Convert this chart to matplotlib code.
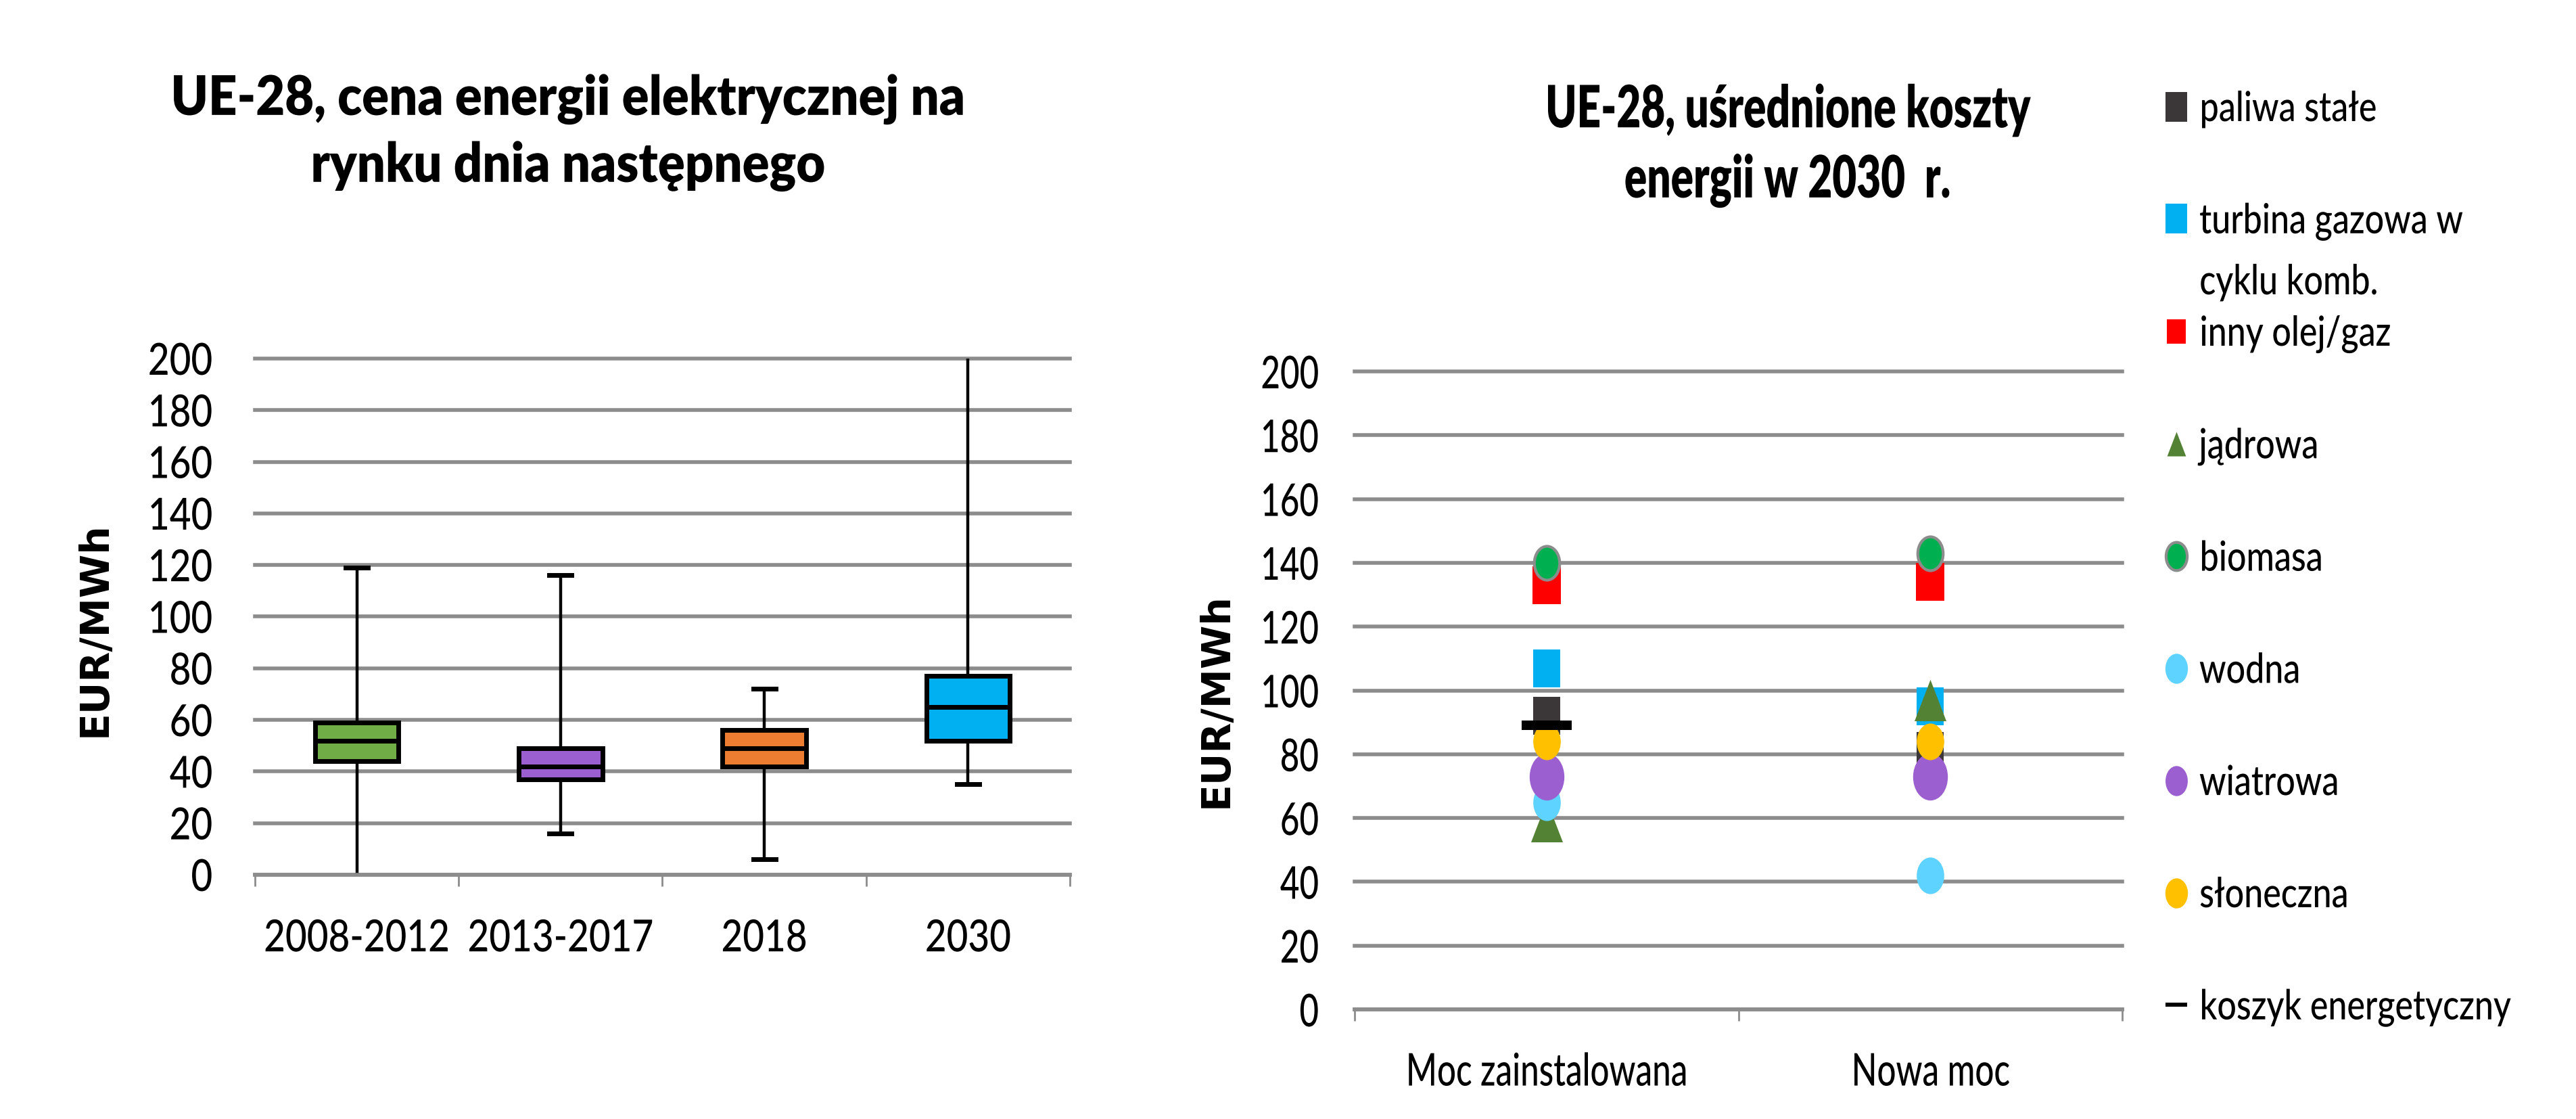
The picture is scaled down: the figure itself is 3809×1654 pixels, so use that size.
import numpy as np
import matplotlib
matplotlib.use("Agg")
import matplotlib.pyplot as plt
import matplotlib.path as mpath
from matplotlib.lines import Line2D
from matplotlib.patheffects import AbstractPathEffect
from matplotlib.transforms import Affine2D

# Left chart: day-ahead price distribution per period
periods = ["2008-2012", "2013-2017", "2018", "2030"]
whisker_low = [0, 16, 6, 35]
q1 = [44, 37, 42, 52]
median = [52, 42, 49, 65]
q3 = [59, 49, 56, 77]
whisker_high = [119, 116, 72, 200]
box_colors = ["#70AD47", "#9B5FD0", "#ED7D31", "#00B0F0"]

# Right chart: levelised cost of energy in 2030
cost_categories = ["Moc zainstalowana", "Nowa moc"]
paliwa_stale = [92, 81]
turbina_gazowa = [107, 95]
inny_olej_gaz = [133, 134]
jadrowa = [59, 97]
biomasa = [140, 143]
wodna = [65, 42]
wiatrowa = [73, 73]
sloneczna = [84, 84]
koszyk = [89, np.nan]

y_ticks = list(range(0, 201, 20))
GRID = "#8c8c8c"
FONT = "Lato"


class Squeeze(AbstractPathEffect):
    """Draw text narrower than the font, like the condensed text of the original."""

    def __init__(self, sx, anchor="center"):
        super().__init__()
        self.sx = sx
        self.anchor = anchor

    def draw_path(self, renderer, gc, tpath, affine, rgbFace=None):
        ext = tpath.transformed(affine).get_extents()
        if self.anchor == "left":
            cx = ext.x0
        elif self.anchor == "right":
            cx = ext.x1
        else:
            cx = (ext.x0 + ext.x1) / 2
        t = affine + Affine2D().translate(-cx, 0).scale(self.sx, 1).translate(cx, 0)
        renderer.draw_path(gc, tpath, t, rgbFace)


def oval(rx):
    circ = mpath.Path.unit_circle()
    return mpath.Path(circ.vertices * np.array([rx, 1.0]), circ.codes)


def rect(w, h):
    return mpath.Path([(-w / 2, -h / 2), (w / 2, -h / 2), (w / 2, h / 2),
                       (-w / 2, h / 2), (-w / 2, -h / 2)], closed=True)


def triangle(w):
    return mpath.Path([(-w / 2, -0.5), (w / 2, -0.5), (0, 0.5), (-w / 2, -0.5)], closed=True)


def style_axes(ax, n_cats, tick_size, squeeze, ypad, xpad):
    ax.set_ylim(0, 200)
    ax.set_yticks(y_ticks)
    ax.set_xlim(-0.5, n_cats - 0.5)
    ax.yaxis.grid(True, color=GRID, linewidth=4)
    ax.set_axisbelow(True)
    for line in ax.get_ygridlines():
        line.set_clip_on(False)
    for side in ["top", "right", "left"]:
        ax.spines[side].set_visible(False)
    ax.spines["bottom"].set_color(GRID)
    ax.spines["bottom"].set_linewidth(4)
    ax.set_xticks(np.arange(-0.5, n_cats), minor=True)
    ax.tick_params(axis="x", which="minor", length=12, width=2, color=GRID, direction="out")
    ax.tick_params(axis="x", which="major", length=0, pad=xpad)
    ax.tick_params(axis="y", length=0, pad=ypad)
    for lab in ax.get_xticklabels():
        lab.set_fontfamily(FONT)
        lab.set_fontweight("medium")
        lab.set_fontsize(tick_size)
        lab.set_path_effects([Squeeze(squeeze, "center")])
    for lab in ax.get_yticklabels():
        lab.set_fontfamily(FONT)
        lab.set_fontweight("medium")
        lab.set_fontsize(tick_size)
        lab.set_path_effects([Squeeze(squeeze, "right")])


fig = plt.figure(figsize=(38.09, 16.54), dpi=100)

# ---------------- left: box plot ----------------
ax1 = fig.add_axes([0.0990, 0.2183, 0.3163, 0.4613])
stats = []
for i, p in enumerate(periods):
    stats.append({"label": p, "whislo": whisker_low[i], "q1": q1[i], "med": median[i],
                  "q3": q3[i], "whishi": whisker_high[i], "fliers": []})
bp = ax1.bxp(stats, positions=range(len(periods)), widths=0.41, capwidths=0.11,
             patch_artist=True, showfliers=False,
             boxprops=dict(linewidth=5, edgecolor="black"),
             medianprops=dict(linewidth=5, color="black"),
             whiskerprops=dict(linewidth=3.2, color="black"),
             capprops=dict(linewidth=5, color="black"))
for patch, c in zip(bp["boxes"], box_colors):
    patch.set_facecolor(c)
# caps lying on the axis limits are not shown in the original
for i in range(len(periods)):
    if whisker_low[i] <= 0:
        bp["caps"][2 * i].set_visible(False)
    if whisker_high[i] >= 200:
        bp["caps"][2 * i + 1].set_visible(False)
ax1.set_xticks(range(len(periods)))
ax1.set_xticklabels(periods)
style_axes(ax1, len(periods), 47, 0.84, 45, 47)
ax1.set_ylabel("EUR/MWh", fontsize=42, fontweight="bold", family="DejaVu Sans")
ax1.yaxis.set_label_coords(-0.173, 0.476)

fig.text(0.2205, 0.881, "UE-28, cena energii elektrycznej na\nrynku dnia następnego",
         ha="center", va="center", fontsize=58, fontweight="heavy", family=FONT,
         linespacing=1.36, path_effects=[Squeeze(0.92, "center")])

# ---------------- right: scatter ----------------
ax2 = fig.add_axes([0.5259, 0.0979, 0.2979, 0.5702])
xpos = np.arange(len(cost_categories))

series = [
    ("paliwa stałe", paliwa_stale, rect(0.71, 1), "#3B3738", 40, 32),
    ("turbina gazowa w", turbina_gazowa, rect(0.71, 1), "#00B0F0", 40, 32),
    ("inny olej/gaz", inny_olej_gaz, rect(0.76, 1), "#FF0000", 40, 26),
    ("jądrowa", jadrowa, triangle(0.77), "#548235", 44, 26),
    ("biomasa", biomasa, oval(0.75), "#00B050", 36, 30),
    ("wodna", wodna, oval(0.75), "#5FD3FF", 39, 32),
    ("wiatrowa", wiatrowa, oval(0.74), "#9B5FD0", 50, 32),
    ("słoneczna", sloneczna, oval(0.75), "#FFC000", 39, 32),
    ("koszyk energetyczny", koszyk, rect(1, 0.2), "black", 53, 23),
]

handles = []
for z, (label, values, marker, color, size, leg_size) in enumerate(series):
    edge = GRID if label == "biomasa" else color
    mew = 3 if label == "biomasa" else 0
    ax2.plot(xpos, values, linestyle="none", marker=marker, markersize=size,
             color=color, markeredgecolor=edge, markeredgewidth=mew, zorder=3 + z)
    handles.append(Line2D([], [], linestyle="none", marker=marker, markersize=leg_size,
                          color=color, markeredgecolor=edge, markeredgewidth=mew))

ax2.set_xticks(xpos)
ax2.set_xticklabels(cost_categories)
style_axes(ax2, len(cost_categories), 48, 0.74, 38, 45)
ax2.set_ylabel("EUR/MWh", fontsize=42, fontweight="bold", family="DejaVu Sans")
ax2.yaxis.set_label_coords(-0.156, 0.485)

fig.text(0.694, 0.8694, "UE-28, uśrednione koszty\nenergii w 2030  r.",
         ha="center", va="center", fontsize=62, fontweight="heavy", family=FONT,
         linespacing=1.4, path_effects=[Squeeze(0.72, "center")])

leg_squeeze = Squeeze(0.82, "left")
leg = fig.legend(handles, [s[0] for s in series], loc="upper left",
                 bbox_to_anchor=(0.8401, 0.9196), frameon=False, borderpad=0,
                 borderaxespad=0, handlelength=0.6, handletextpad=0.25,
                 labelspacing=1.78, prop={"family": FONT, "size": 44, "weight": "medium"})
for t in leg.get_texts():
    t.set_path_effects([leg_squeeze])

# second line of the two-line legend entry overflows below it, as in the original
fig.canvas.draw()
renderer = fig.canvas.get_renderer()
bb = leg.get_texts()[1].get_window_extent(renderer)
fig.text(bb.x0 / fig.bbox.width, ((bb.y0 + bb.y1) / 2 - 90) / fig.bbox.height,
         "cyklu komb.", ha="left", va="center", family=FONT, fontsize=44,
         fontweight="medium", path_effects=[leg_squeeze])

fig.savefig("out.png", dpi=100)
